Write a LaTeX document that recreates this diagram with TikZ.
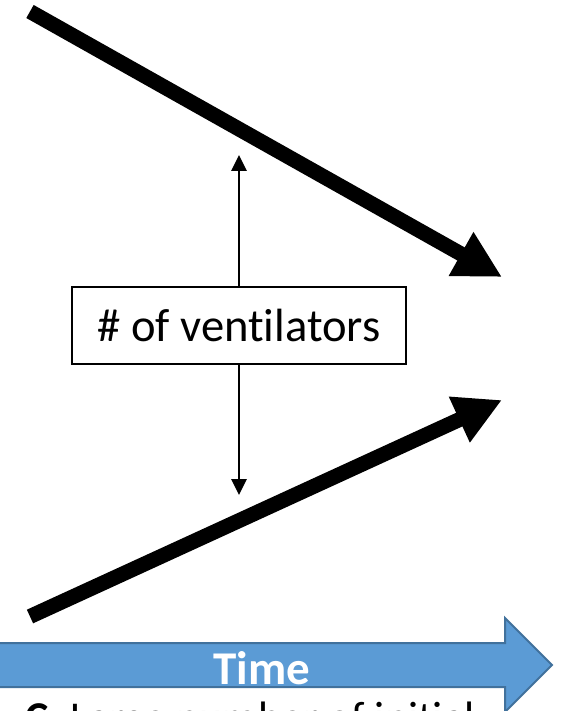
\documentclass[tikz,border=0pt]{standalone}
\usepackage{fontspec}
\setmainfont{Carlito}[Ligatures={NoCommon}]
\usetikzlibrary{arrows.meta}
\definecolor{timefill}{HTML}{5B9BD5}
\definecolor{timeedge}{HTML}{41719C}
\tikzset{
  bigarrow/.style={line width=15pt, -{Triangle[length=47pt,width=47pt]}},
  smallarrow/.style={line width=2.7pt, -{Triangle[length=16pt,width=15pt]}},
  labelbox/.style={draw, line width=2.7pt, minimum width=334pt, minimum height=77pt, inner sep=0pt, font=\fontsize{46.6}{50}\selectfont},
  timearrow/.style={fill=timefill, draw=timeedge, line width=2pt},
  timetext/.style={text=white, font=\fontsize{47}{50}\selectfont\bfseries, inner sep=0pt},
  captext/.style={anchor=base west, inner sep=0pt, font=\fontsize{44}{48}\selectfont}
}
\begin{document}
\begin{tikzpicture}[x=1pt,y=-1pt]
\useasboundingbox (0,0) rectangle (562,711);
\clip (0,0) rectangle (562,711);
\fill[white] (0,0) rectangle (562,711);
% thick arrows
\coordinate (a1s) at (30,11.5);
\coordinate (a1t) at (502,277);
\coordinate (a2s) at (30,616.5);
\coordinate (a2t) at (502,400);
\draw[bigarrow] (a1s) -- (a1t);
\draw[bigarrow] (a2s) -- (a2t);
% box and vertical arrows
\node[labelbox] (box) at (239,325.5) {\# of ventilators};
\coordinate (vtop) at (239,155);
\coordinate (vbot) at (239,495);
\draw[smallarrow] (box.north) -- (vtop);
\draw[smallarrow] (box.south) -- (vbot);
% time arrow
\draw[timearrow] (-5,643) -- (505,643) -- (505,618) -- (552,665) -- (505,712) -- (505,687) -- (-5,687) -- cycle;
\node[timetext] (time) at (262,668) {Time};
% caption (cut off at the bottom, as in the reference)
\node[captext] (cap) at (25,732) {\textbf{C.} Large number of initial};
\end{tikzpicture}
\end{document}
